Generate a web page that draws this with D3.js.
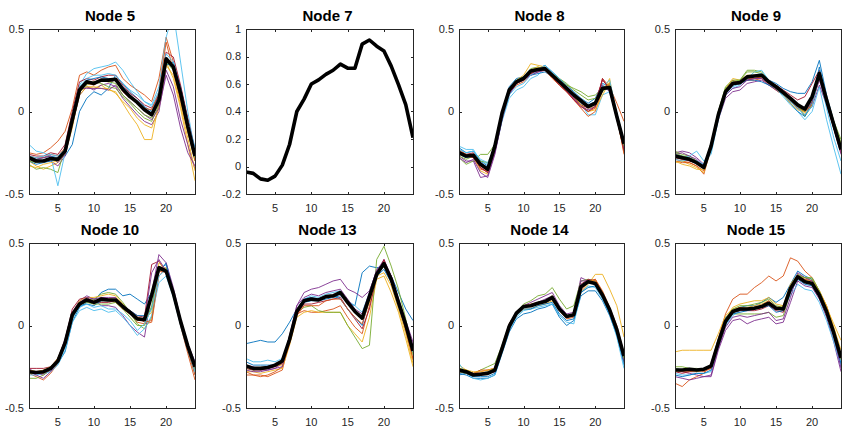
<!DOCTYPE html>
<html>
<head>
<meta charset="utf-8">
<script src="https://cdn.jsdelivr.net/npm/d3@7"></script>
<style>
    body { margin: 0; background: #fff; }
    svg { display: block; font-family: "Liberation Sans", Arial, sans-serif; }
    .tick-label { font-size: 11px; fill: #262626; }
    .panel-title { font-size: 15px; font-weight: bold; fill: #000; }
</style>
</head>
<body>
<div id="container"></div>
<script>
// shared x values and tick labels
const steps = [1, 2, 3, 4, 5, 6, 7, 8, 9, 10, 11, 12, 13, 14, 15, 16, 17, 18, 19, 20, 21, 22, 23, 24];
const xTicks = [5, 10, 15, 20];
const yTicksHalf = [-0.5, 0, 0.5];
const yTicksNode7 = [-0.2, 0, 0.2, 0.4, 0.6, 0.8, 1];
const lineColors = ["#0072BD", "#D95319", "#EDB120", "#7E2F8E", "#77AC30", "#4DBEEE", "#A2142F"];

// Node 5
const node5Mean = [-0.28, -0.30, -0.30, -0.285, -0.29, -0.24, -0.05, 0.13, 0.18, 0.17, 0.19, 0.19, 0.195, 0.135, 0.09, 0.055, 0.01, -0.02, 0.07, 0.32, 0.27, 0.11, -0.09, -0.27];
const node5Runs = [
    [-0.27, -0.29, -0.28, -0.27, -0.28, -0.27, -0.2, 0.0, 0.08, 0.12, 0.10, 0.14, 0.22, 0.17, 0.12, 0.08, 0.03, 0.0, 0.1, 0.3, 0.28, 0.15, -0.05, -0.22],
    [-0.25, -0.26, -0.25, -0.22, -0.18, -0.12, 0.02, 0.22, 0.24, 0.22, 0.25, 0.27, 0.28, 0.2, 0.16, 0.13, 0.1, 0.06, 0.2, 0.45, 0.3, 0.12, -0.08, -0.26],
    [-0.3, -0.33, -0.35, -0.33, -0.31, -0.26, -0.1, 0.12, 0.15, 0.14, 0.16, 0.13, 0.12, 0.05, -0.02, -0.08, -0.17, -0.17, 0.05, 0.3, 0.2, 0.02, -0.2, -0.42],
    [-0.29, -0.31, -0.3, -0.3, -0.33, -0.27, -0.08, 0.1, 0.15, 0.13, 0.16, 0.17, 0.15, 0.08, 0.03, -0.02, -0.06, -0.08, 0.0, 0.25, 0.15, -0.05, -0.2, -0.35],
    [-0.32, -0.35, -0.34, -0.35, -0.37, -0.22, -0.08, 0.12, 0.16, 0.18, 0.17, 0.15, 0.14, 0.09, 0.05, 0.0, -0.04, -0.06, 0.04, 0.3, 0.25, 0.08, -0.12, -0.3],
    [-0.2, -0.24, -0.25, -0.27, -0.45, -0.25, -0.05, 0.16, 0.23, 0.26, 0.27, 0.28, 0.3, 0.25, 0.18, 0.12, 0.06, 0.04, 0.15, 0.45, 0.6, 0.3, 0.0, -0.25],
    [-0.26, -0.27, -0.27, -0.25, -0.26, -0.2, 0.0, 0.18, 0.2, 0.19, 0.21, 0.22, 0.22, 0.16, 0.11, 0.08, 0.04, 0.02, 0.1, 0.36, 0.33, 0.16, -0.04, -0.24],
    [-0.3, -0.32, -0.31, -0.3, -0.29, -0.25, -0.06, 0.14, 0.19, 0.2, 0.21, 0.2, 0.2, 0.15, 0.1, 0.06, 0.02, -0.01, 0.08, 0.28, 0.3, 0.14, -0.06, -0.25],
    [-0.27, -0.28, -0.28, -0.26, -0.27, -0.22, -0.04, 0.15, 0.17, 0.16, 0.19, 0.18, 0.19, 0.12, 0.08, 0.05, 0.02, 0.01, 0.12, 0.42, 0.25, 0.06, -0.12, -0.3],
    [-0.33, -0.34, -0.32, -0.31, -0.3, -0.26, -0.08, 0.1, 0.15, 0.15, 0.14, 0.14, 0.11, 0.06, 0.02, -0.04, -0.08, -0.1, 0.02, 0.28, 0.22, 0.04, -0.16, -0.36],
    [-0.28, -0.29, -0.28, -0.27, -0.31, -0.26, -0.04, 0.14, 0.14, 0.14, 0.14, 0.13, 0.16, 0.1, 0.06, 0.02, -0.02, -0.05, 0.02, 0.22, 0.1, -0.1, -0.25, -0.33],
    [-0.3, -0.31, -0.3, -0.29, -0.3, -0.24, -0.06, 0.12, 0.17, 0.18, 0.19, 0.18, 0.17, 0.1, 0.06, 0.02, -0.02, -0.04, 0.06, 0.32, 0.28, 0.1, -0.1, -0.28],
    [-0.27, -0.28, -0.27, -0.26, -0.27, -0.23, -0.03, 0.15, 0.2, 0.22, 0.22, 0.23, 0.22, 0.17, 0.13, 0.1, 0.06, 0.03, 0.12, 0.35, 0.3, 0.13, -0.06, -0.23]
];

// Node 7 (mean only)
const node7Mean = [-0.04, -0.05, -0.09, -0.10, -0.07, 0.01, 0.16, 0.40, 0.49, 0.60, 0.63, 0.67, 0.70, 0.745, 0.715, 0.715, 0.89, 0.92, 0.875, 0.84, 0.73, 0.595, 0.45, 0.21];

// Node 8
const node8Mean = [-0.25, -0.27, -0.265, -0.32, -0.35, -0.21, -0.01, 0.13, 0.18, 0.20, 0.245, 0.255, 0.26, 0.22, 0.18, 0.14, 0.10, 0.065, 0.03, 0.05, 0.14, 0.145, -0.03, -0.195];
const node8Runs = [
    [-0.22, -0.25, -0.24, -0.3, -0.33, -0.2, 0.0, 0.15, 0.2, 0.21, 0.24, 0.26, 0.28, 0.24, 0.2, 0.16, 0.12, 0.08, 0.05, 0.08, 0.17, 0.15, -0.01, -0.18],
    [-0.25, -0.28, -0.27, -0.34, -0.37, -0.24, -0.04, 0.11, 0.16, 0.18, 0.22, 0.24, 0.25, 0.21, 0.16, 0.12, 0.08, 0.04, 0.0, 0.02, 0.2, 0.15, 0.05, -0.06],
    [-0.24, -0.27, -0.28, -0.36, -0.38, -0.22, -0.02, 0.12, 0.19, 0.22, 0.29, 0.28, 0.27, 0.21, 0.17, 0.13, 0.09, 0.05, 0.02, 0.03, 0.12, 0.2, -0.04, -0.25],
    [-0.27, -0.3, -0.3, -0.4, -0.39, -0.25, -0.05, 0.1, 0.17, 0.19, 0.23, 0.24, 0.26, 0.22, 0.18, 0.13, 0.09, 0.05, 0.03, 0.04, 0.15, 0.13, -0.05, -0.22],
    [-0.28, -0.32, -0.3, -0.26, -0.26, -0.2, -0.02, 0.13, 0.18, 0.21, 0.26, 0.27, 0.25, 0.22, 0.19, 0.16, 0.14, 0.12, 0.09, 0.1, 0.14, 0.17, -0.03, -0.2],
    [-0.21, -0.23, -0.23, -0.3, -0.32, -0.24, -0.06, 0.08, 0.13, 0.15, 0.2, 0.22, 0.27, 0.23, 0.19, 0.14, 0.1, 0.05, -0.02, -0.02, 0.1, 0.12, -0.02, -0.2],
    [-0.24, -0.26, -0.25, -0.33, -0.36, -0.22, -0.03, 0.12, 0.17, 0.2, 0.24, 0.25, 0.26, 0.21, 0.17, 0.12, 0.08, 0.04, 0.02, 0.06, 0.19, 0.14, -0.02, -0.22],
    [-0.26, -0.28, -0.27, -0.31, -0.34, -0.21, -0.01, 0.14, 0.19, 0.2, 0.22, 0.23, 0.24, 0.21, 0.18, 0.15, 0.11, 0.07, 0.04, 0.06, 0.13, 0.14, -0.03, -0.21],
    [-0.23, -0.26, -0.26, -0.35, -0.36, -0.23, -0.03, 0.12, 0.17, 0.19, 0.23, 0.25, 0.25, 0.2, 0.16, 0.12, 0.07, 0.02, -0.03, 0.0, 0.13, 0.17, -0.02, -0.26],
    [-0.26, -0.27, -0.26, -0.33, -0.35, -0.22, -0.02, 0.13, 0.18, 0.2, 0.25, 0.27, 0.26, 0.22, 0.18, 0.14, 0.09, 0.04, 0.0, 0.01, 0.1, 0.18, -0.02, -0.24],
    [-0.28, -0.31, -0.29, -0.37, -0.4, -0.26, -0.05, 0.11, 0.17, 0.19, 0.22, 0.24, 0.25, 0.21, 0.17, 0.13, 0.08, 0.03, 0.01, 0.03, 0.16, 0.12, -0.04, -0.23],
    [-0.27, -0.29, -0.27, -0.3, -0.31, -0.22, -0.01, 0.14, 0.19, 0.21, 0.25, 0.26, 0.26, 0.23, 0.2, 0.17, 0.13, 0.1, 0.07, 0.08, 0.12, 0.16, -0.02, -0.21],
    [-0.23, -0.25, -0.24, -0.29, -0.31, -0.23, -0.04, 0.1, 0.15, 0.17, 0.22, 0.25, 0.28, 0.24, 0.2, 0.15, 0.1, 0.06, 0.03, 0.04, 0.15, 0.19, -0.01, -0.18],
    [-0.25, -0.27, -0.28, -0.34, -0.37, -0.23, -0.03, 0.12, 0.17, 0.2, 0.23, 0.25, 0.25, 0.21, 0.16, 0.12, 0.07, 0.03, 0.0, 0.03, 0.2, 0.13, -0.04, -0.24]
];

// Node 9
const node9Mean = [-0.27, -0.28, -0.29, -0.31, -0.34, -0.21, -0.02, 0.12, 0.17, 0.175, 0.21, 0.215, 0.22, 0.18, 0.15, 0.115, 0.08, 0.04, 0.015, 0.09, 0.23, 0.07, -0.08, -0.23];
const node9Runs = [
    [-0.26, -0.27, -0.28, -0.3, -0.33, -0.2, -0.01, 0.13, 0.18, 0.18, 0.2, 0.21, 0.22, 0.19, 0.17, 0.14, 0.12, 0.11, 0.11, 0.18, 0.31, 0.1, -0.06, -0.22],
    [-0.29, -0.3, -0.31, -0.33, -0.38, -0.22, -0.03, 0.11, 0.16, 0.17, 0.19, 0.19, 0.2, 0.16, 0.13, 0.1, 0.06, 0.02, 0.0, 0.05, 0.24, 0.06, -0.1, -0.24],
    [-0.31, -0.3, -0.32, -0.34, -0.37, -0.22, -0.02, 0.14, 0.2, 0.19, 0.22, 0.22, 0.22, 0.17, 0.13, 0.1, 0.06, 0.02, -0.01, 0.05, 0.2, 0.09, -0.07, -0.2],
    [-0.25, -0.24, -0.25, -0.28, -0.32, -0.23, -0.05, 0.08, 0.12, 0.13, 0.17, 0.18, 0.19, 0.16, 0.13, 0.1, 0.06, 0.02, -0.02, 0.03, 0.16, 0.04, -0.1, -0.26],
    [-0.24, -0.26, -0.27, -0.3, -0.33, -0.19, 0.0, 0.14, 0.18, 0.19, 0.25, 0.25, 0.24, 0.19, 0.15, 0.11, 0.07, 0.03, -0.03, 0.04, 0.22, 0.08, -0.06, -0.17],
    [-0.28, -0.28, -0.27, -0.24, -0.3, -0.26, -0.05, 0.1, 0.14, 0.16, 0.2, 0.24, 0.25, 0.19, 0.14, 0.09, 0.04, 0.0, -0.05, 0.0, 0.15, -0.05, -0.22, -0.38],
    [-0.28, -0.29, -0.3, -0.31, -0.34, -0.2, -0.01, 0.12, 0.17, 0.17, 0.19, 0.2, 0.21, 0.18, 0.16, 0.13, 0.1, 0.07, 0.09, 0.17, 0.25, 0.08, -0.08, -0.24],
    [-0.27, -0.28, -0.29, -0.31, -0.34, -0.22, -0.03, 0.11, 0.16, 0.17, 0.19, 0.19, 0.18, 0.16, 0.14, 0.1, 0.05, 0.0, -0.03, 0.06, 0.27, 0.07, -0.09, -0.23],
    [-0.3, -0.31, -0.31, -0.33, -0.36, -0.21, -0.01, 0.13, 0.19, 0.17, 0.2, 0.2, 0.21, 0.17, 0.14, 0.1, 0.06, 0.03, 0.0, 0.04, 0.21, 0.06, -0.1, -0.25],
    [-0.3, -0.32, -0.33, -0.35, -0.35, -0.21, -0.02, 0.12, 0.17, 0.18, 0.2, 0.21, 0.22, 0.18, 0.14, 0.1, 0.05, 0.01, 0.0, 0.07, 0.24, 0.09, -0.07, -0.21],
    [-0.26, -0.25, -0.27, -0.29, -0.33, -0.22, -0.04, 0.1, 0.14, 0.15, 0.19, 0.2, 0.2, 0.17, 0.14, 0.11, 0.07, 0.03, 0.0, 0.06, 0.19, 0.05, -0.1, -0.25],
    [-0.25, -0.27, -0.28, -0.31, -0.34, -0.2, 0.0, 0.15, 0.19, 0.19, 0.24, 0.24, 0.23, 0.18, 0.15, 0.11, 0.07, 0.03, 0.0, 0.08, 0.23, 0.08, -0.06, -0.19],
    [-0.29, -0.3, -0.29, -0.3, -0.32, -0.24, -0.04, 0.11, 0.15, 0.17, 0.2, 0.22, 0.23, 0.18, 0.14, 0.1, 0.06, 0.02, -0.02, 0.03, 0.22, 0.02, -0.16, -0.3]
];

// Node 10
const node10Mean = [-0.28, -0.285, -0.28, -0.26, -0.215, -0.105, 0.065, 0.13, 0.155, 0.14, 0.16, 0.155, 0.155, 0.115, 0.08, 0.04, 0.035, 0.185, 0.35, 0.33, 0.195, 0.025, -0.125, -0.25];
const node10Runs = [
    [-0.27, -0.28, -0.28, -0.27, -0.23, -0.16, 0.02, 0.11, 0.14, 0.15, 0.2, 0.22, 0.22, 0.18, 0.19, 0.16, 0.13, 0.2, 0.32, 0.38, 0.21, 0.03, -0.12, -0.22],
    [-0.29, -0.31, -0.33, -0.29, -0.23, -0.12, 0.04, 0.12, 0.15, 0.13, 0.15, 0.15, 0.14, 0.1, 0.07, 0.02, 0.01, 0.02, 0.3, 0.35, 0.2, 0.0, -0.17, -0.33],
    [-0.27, -0.28, -0.28, -0.26, -0.2, -0.09, 0.07, 0.14, 0.16, 0.15, 0.16, 0.16, 0.17, 0.12, 0.09, 0.05, 0.04, 0.2, 0.36, 0.34, 0.2, 0.03, -0.12, -0.24],
    [-0.26, -0.29, -0.3, -0.27, -0.21, -0.08, 0.08, 0.15, 0.18, 0.16, 0.12, 0.12, 0.11, 0.06, 0.0, -0.04, -0.07, 0.2, 0.43, 0.38, 0.23, 0.04, -0.11, -0.22],
    [-0.32, -0.32, -0.3, -0.27, -0.21, -0.1, 0.05, 0.12, 0.15, 0.16, 0.19, 0.2, 0.19, 0.14, 0.08, 0.01, -0.02, 0.05, 0.33, 0.35, 0.19, 0.01, -0.14, -0.28],
    [-0.3, -0.3, -0.29, -0.28, -0.24, -0.15, 0.02, 0.09, 0.11, 0.09, 0.1, 0.08, 0.09, 0.05, 0.0, -0.06, -0.02, 0.06, 0.26, 0.3, 0.17, 0.0, -0.15, -0.3],
    [-0.26, -0.26, -0.26, -0.25, -0.2, -0.09, 0.1, 0.16, 0.17, 0.14, 0.14, 0.14, 0.15, 0.12, 0.09, 0.06, 0.05, 0.37, 0.39, 0.32, 0.18, 0.02, -0.13, -0.26],
    [-0.28, -0.29, -0.29, -0.27, -0.22, -0.11, 0.05, 0.12, 0.13, 0.12, 0.15, 0.15, 0.16, 0.12, 0.09, 0.06, 0.06, 0.1, 0.34, 0.37, 0.2, 0.03, -0.12, -0.24],
    [-0.28, -0.29, -0.29, -0.27, -0.22, -0.11, 0.06, 0.14, 0.16, 0.14, 0.17, 0.16, 0.15, 0.1, 0.07, 0.05, 0.02, 0.03, 0.33, 0.32, 0.18, 0.01, -0.15, -0.3],
    [-0.27, -0.28, -0.27, -0.25, -0.2, -0.1, 0.07, 0.15, 0.17, 0.17, 0.18, 0.19, 0.18, 0.13, 0.08, 0.03, 0.04, 0.08, 0.38, 0.34, 0.2, 0.03, -0.12, -0.26],
    [-0.28, -0.3, -0.32, -0.28, -0.22, -0.1, 0.06, 0.14, 0.17, 0.16, 0.17, 0.17, 0.17, 0.11, 0.07, 0.04, 0.03, 0.32, 0.4, 0.33, 0.2, 0.02, -0.13, -0.27],
    [-0.29, -0.29, -0.28, -0.26, -0.21, -0.1, 0.06, 0.13, 0.14, 0.13, 0.13, 0.13, 0.14, 0.1, 0.05, 0.0, 0.0, 0.12, 0.34, 0.33, 0.19, 0.02, -0.14, -0.27],
    [-0.28, -0.29, -0.28, -0.27, -0.23, -0.13, 0.04, 0.11, 0.13, 0.11, 0.12, 0.1, 0.1, 0.07, 0.03, -0.03, 0.01, 0.1, 0.3, 0.34, 0.19, 0.01, -0.14, -0.28]
];

// Node 13
const node13Mean = [-0.245, -0.26, -0.26, -0.255, -0.24, -0.215, -0.085, 0.085, 0.15, 0.16, 0.155, 0.175, 0.18, 0.20, 0.14, 0.085, 0.045, 0.175, 0.31, 0.375, 0.28, 0.14, 0.005, -0.155];
const node13Runs = [
    [-0.11, -0.1, -0.09, -0.1, -0.1, -0.05, 0.02, 0.1, 0.14, 0.15, 0.15, 0.16, 0.17, 0.18, 0.14, 0.12, 0.32, 0.36, 0.35, 0.36, 0.3, 0.2, 0.1, 0.03],
    [-0.28, -0.3, -0.3, -0.31, -0.29, -0.27, -0.1, 0.07, 0.09, 0.08, 0.08, 0.09, 0.1, 0.12, 0.05, -0.01, -0.05, 0.12, 0.3, 0.39, 0.3, 0.14, -0.03, -0.2],
    [-0.28, -0.28, -0.29, -0.28, -0.27, -0.26, -0.12, 0.05, 0.08, 0.09, 0.08, 0.08, 0.08, 0.08, 0.0, -0.05, -0.1, 0.05, 0.28, 0.3, 0.2, 0.08, -0.08, -0.25],
    [-0.24, -0.25, -0.27, -0.27, -0.26, -0.23, -0.06, 0.12, 0.2, 0.22, 0.23, 0.25, 0.27, 0.28, 0.22, 0.2, 0.17, 0.21, 0.33, 0.4, 0.3, 0.16, 0.03, -0.1],
    [-0.26, -0.27, -0.26, -0.25, -0.24, -0.22, -0.09, 0.08, 0.11, 0.12, 0.09, 0.08, 0.08, 0.08, 0.0, -0.07, -0.14, -0.12, 0.4, 0.48, 0.36, 0.22, 0.04, -0.18],
    [-0.2, -0.22, -0.22, -0.21, -0.22, -0.2, -0.08, 0.1, 0.16, 0.18, 0.17, 0.19, 0.2, 0.21, 0.15, 0.12, 0.08, 0.2, 0.32, 0.37, 0.27, 0.13, 0.0, -0.16],
    [-0.26, -0.27, -0.27, -0.26, -0.25, -0.23, -0.1, 0.07, 0.13, 0.13, 0.14, 0.15, 0.16, 0.17, 0.1, 0.04, -0.02, 0.1, 0.3, 0.4, 0.28, 0.12, -0.02, -0.15],
    [-0.22, -0.24, -0.24, -0.24, -0.24, -0.22, -0.07, 0.1, 0.16, 0.17, 0.16, 0.18, 0.18, 0.16, 0.1, 0.05, 0.0, 0.16, 0.3, 0.34, 0.26, 0.12, -0.02, -0.14],
    [-0.3, -0.3, -0.31, -0.3, -0.28, -0.25, -0.11, 0.06, 0.12, 0.12, 0.12, 0.15, 0.16, 0.16, 0.1, 0.05, 0.01, 0.15, 0.3, 0.38, 0.26, 0.13, -0.03, -0.21],
    [-0.25, -0.26, -0.26, -0.25, -0.24, -0.24, -0.09, 0.1, 0.15, 0.16, 0.16, 0.18, 0.18, 0.2, 0.14, 0.09, 0.05, 0.14, 0.3, 0.32, 0.24, 0.1, -0.05, -0.23],
    [-0.27, -0.28, -0.28, -0.27, -0.26, -0.25, -0.07, 0.12, 0.17, 0.19, 0.18, 0.2, 0.21, 0.22, 0.16, 0.1, 0.07, 0.2, 0.34, 0.38, 0.3, 0.16, 0.02, -0.12]
];

// Node 14
const node14Mean = [-0.27, -0.28, -0.30, -0.295, -0.29, -0.27, -0.14, -0.005, 0.075, 0.115, 0.12, 0.135, 0.145, 0.17, 0.10, 0.055, 0.065, 0.235, 0.265, 0.255, 0.185, 0.095, -0.025, -0.185];
const node14Runs = [
    [-0.29, -0.3, -0.32, -0.32, -0.32, -0.3, -0.17, -0.04, 0.04, 0.07, 0.08, 0.1, 0.11, 0.13, 0.05, 0.0, 0.03, 0.18, 0.21, 0.21, 0.15, 0.06, -0.06, -0.24],
    [-0.28, -0.28, -0.29, -0.28, -0.27, -0.26, -0.13, 0.01, 0.08, 0.11, 0.12, 0.13, 0.14, 0.16, 0.09, 0.04, 0.05, 0.22, 0.27, 0.28, 0.2, 0.1, -0.02, -0.2],
    [-0.24, -0.27, -0.29, -0.3, -0.29, -0.27, -0.15, -0.02, 0.06, 0.1, 0.1, 0.12, 0.13, 0.15, 0.09, 0.05, 0.06, 0.2, 0.25, 0.31, 0.31, 0.22, 0.12, -0.07],
    [-0.27, -0.28, -0.29, -0.29, -0.28, -0.27, -0.14, 0.0, 0.08, 0.12, 0.14, 0.16, 0.18, 0.2, 0.12, 0.07, 0.08, 0.29, 0.27, 0.27, 0.19, 0.1, -0.03, -0.19],
    [-0.26, -0.27, -0.29, -0.27, -0.25, -0.23, -0.12, 0.01, 0.08, 0.13, 0.15, 0.18, 0.19, 0.23, 0.16, 0.1, 0.12, 0.27, 0.28, 0.27, 0.19, 0.1, -0.02, -0.2],
    [-0.23, -0.29, -0.32, -0.33, -0.32, -0.3, -0.16, -0.03, 0.05, 0.09, 0.1, 0.11, 0.12, 0.13, 0.06, 0.02, 0.01, 0.2, 0.24, 0.23, 0.16, 0.07, -0.07, -0.26],
    [-0.28, -0.29, -0.3, -0.3, -0.29, -0.28, -0.14, 0.01, 0.08, 0.12, 0.12, 0.14, 0.15, 0.17, 0.1, 0.05, 0.07, 0.25, 0.28, 0.27, 0.2, 0.1, -0.03, -0.22],
    [-0.3, -0.29, -0.31, -0.31, -0.31, -0.29, -0.16, -0.02, 0.06, 0.1, 0.1, 0.12, 0.13, 0.14, 0.07, 0.03, 0.04, 0.2, 0.23, 0.24, 0.17, 0.07, -0.05, -0.22],
    [-0.27, -0.28, -0.29, -0.27, -0.27, -0.26, -0.13, 0.0, 0.07, 0.12, 0.13, 0.14, 0.15, 0.17, 0.1, 0.05, 0.06, 0.21, 0.26, 0.28, 0.21, 0.11, 0.0, -0.17],
    [-0.26, -0.27, -0.28, -0.28, -0.27, -0.26, -0.13, 0.0, 0.08, 0.12, 0.12, 0.14, 0.15, 0.18, 0.11, 0.06, 0.07, 0.24, 0.27, 0.27, 0.2, 0.1, -0.02, -0.18],
    [-0.27, -0.29, -0.3, -0.3, -0.29, -0.28, -0.15, -0.01, 0.07, 0.11, 0.12, 0.14, 0.16, 0.18, 0.11, 0.06, 0.07, 0.27, 0.27, 0.26, 0.19, 0.09, -0.04, -0.21],
    [-0.28, -0.29, -0.3, -0.29, -0.28, -0.26, -0.13, 0.0, 0.07, 0.11, 0.12, 0.14, 0.15, 0.18, 0.11, 0.06, 0.07, 0.24, 0.26, 0.26, 0.19, 0.1, -0.03, -0.2]
];

// Node 15
const node15Mean = [-0.27, -0.27, -0.265, -0.27, -0.265, -0.245, -0.105, 0.025, 0.085, 0.10, 0.10, 0.105, 0.115, 0.135, 0.105, 0.10, 0.225, 0.295, 0.265, 0.255, 0.185, 0.085, -0.045, -0.195];
const node15Runs = [
    [-0.26, -0.27, -0.26, -0.27, -0.27, -0.25, -0.08, 0.05, 0.09, 0.11, 0.12, 0.12, 0.14, 0.17, 0.14, 0.17, 0.25, 0.33, 0.3, 0.28, 0.2, 0.08, -0.07, -0.24],
    [-0.35, -0.37, -0.33, -0.31, -0.29, -0.23, -0.08, 0.07, 0.16, 0.19, 0.19, 0.23, 0.26, 0.3, 0.27, 0.3, 0.41, 0.39, 0.33, 0.29, 0.21, 0.12, -0.02, -0.18],
    [-0.16, -0.15, -0.15, -0.15, -0.15, -0.15, -0.05, 0.06, 0.1, 0.11, 0.11, 0.12, 0.13, 0.15, 0.11, 0.12, 0.25, 0.31, 0.28, 0.27, 0.21, 0.11, 0.01, -0.09],
    [-0.27, -0.28, -0.29, -0.3, -0.31, -0.31, -0.15, -0.03, 0.03, 0.04, 0.01, 0.03, 0.04, 0.05, 0.01, 0.02, 0.14, 0.27, 0.24, 0.23, 0.16, 0.05, -0.1, -0.28],
    [-0.25, -0.25, -0.26, -0.26, -0.27, -0.25, -0.1, 0.03, 0.07, 0.07, 0.07, 0.07, 0.07, 0.08, 0.05, 0.06, 0.2, 0.31, 0.29, 0.28, 0.2, 0.09, -0.04, -0.21],
    [-0.29, -0.3, -0.3, -0.29, -0.29, -0.28, -0.13, 0.0, 0.06, 0.09, 0.09, 0.11, 0.12, 0.13, 0.1, 0.11, 0.18, 0.25, 0.22, 0.21, 0.14, 0.03, -0.1, -0.25],
    [-0.28, -0.29, -0.28, -0.28, -0.27, -0.26, -0.11, 0.03, 0.08, 0.09, 0.09, 0.09, 0.1, 0.12, 0.09, 0.08, 0.21, 0.3, 0.27, 0.26, 0.19, 0.09, -0.05, -0.2],
    [-0.3, -0.31, -0.3, -0.29, -0.29, -0.27, -0.12, 0.01, 0.07, 0.08, 0.09, 0.1, 0.11, 0.12, 0.08, 0.09, 0.2, 0.28, 0.25, 0.24, 0.17, 0.07, -0.06, -0.23],
    [-0.27, -0.28, -0.28, -0.27, -0.28, -0.26, -0.11, 0.02, 0.09, 0.11, 0.1, 0.11, 0.12, 0.15, 0.11, 0.1, 0.23, 0.3, 0.28, 0.27, 0.2, 0.1, -0.04, -0.19],
    [-0.28, -0.27, -0.27, -0.28, -0.27, -0.25, -0.1, 0.04, 0.11, 0.13, 0.14, 0.15, 0.15, 0.17, 0.13, 0.12, 0.24, 0.29, 0.27, 0.27, 0.21, 0.12, -0.01, -0.15],
    [-0.31, -0.32, -0.33, -0.32, -0.31, -0.3, -0.14, -0.01, 0.05, 0.06, 0.05, 0.06, 0.07, 0.08, 0.03, 0.04, 0.17, 0.32, 0.29, 0.27, 0.19, 0.08, -0.06, -0.26],
    [-0.26, -0.27, -0.27, -0.27, -0.26, -0.24, -0.09, 0.04, 0.1, 0.12, 0.12, 0.13, 0.14, 0.16, 0.12, 0.11, 0.22, 0.3, 0.29, 0.29, 0.21, 0.1, -0.03, -0.19]
];

const panels = [
    { title: "Node 5", runs: node5Runs, mean: node5Mean, yTicks: yTicksHalf },
    { title: "Node 7", runs: [], mean: node7Mean, yTicks: yTicksNode7 },
    { title: "Node 8", runs: node8Runs, mean: node8Mean, yTicks: yTicksHalf },
    { title: "Node 9", runs: node9Runs, mean: node9Mean, yTicks: yTicksHalf },
    { title: "Node 10", runs: node10Runs, mean: node10Mean, yTicks: yTicksHalf },
    { title: "Node 13", runs: node13Runs, mean: node13Mean, yTicks: yTicksHalf },
    { title: "Node 14", runs: node14Runs, mean: node14Mean, yTicks: yTicksHalf },
    { title: "Node 15", runs: node15Runs, mean: node15Mean, yTicks: yTicksHalf }
];

// axes boxes (pixels), as in the MATLAB figure
const colLeft = [29, 246, 459, 675];
const colRight = [195, 413, 624, 841];
const rowTop = [29, 243];
const rowBottom = [194, 408];
const tickLen = 2.5;
const axisColor = "#262626";

const svg = d3.select("#container")
    .append("svg")
    .attr("width", 845)
    .attr("height", 430);

svg.append("rect").attr("width", 845).attr("height", 430).attr("fill", "#fff");

panels.forEach((p, i) => {
    const col = i % 4, row = Math.floor(i / 4);
    const left = colLeft[col], right = colRight[col];
    const top = rowTop[row], bottom = rowBottom[row];

    const x = d3.scaleLinear().domain([1, 24]).range([left, right]);
    const y = d3.scaleLinear()
        .domain([p.yTicks[0], p.yTicks[p.yTicks.length - 1]])
        .range([bottom, top]);

    const g = svg.append("g");

    // clip lines to the axes box
    const clipId = "clip" + i;
    svg.append("clipPath").attr("id", clipId)
        .append("rect")
        .attr("x", left).attr("y", top)
        .attr("width", right - left).attr("height", bottom - top);

    const line = d3.line()
        .x((d, k) => x(steps[k]))
        .y(d => y(d));

    const plot = g.append("g").attr("clip-path", `url(#${clipId})`);

    plot.selectAll("path.run")
        .data(p.runs)
        .join("path")
        .attr("class", "run")
        .attr("d", line)
        .attr("fill", "none")
        .attr("stroke", (d, k) => lineColors[k % lineColors.length])
        .attr("stroke-width", 0.9);

    plot.append("path")
        .datum(p.mean)
        .attr("d", line)
        .attr("fill", "none")
        .attr("stroke", "#000")
        .attr("stroke-width", 3.6)
        .attr("stroke-linejoin", "round");

    // box with inward ticks on all sides
    const frame = g.append("g")
        .attr("stroke", axisColor)
        .attr("stroke-width", 1)
        .attr("shape-rendering", "crispEdges");

    frame.append("rect")
        .attr("x", left + 0.5).attr("y", top + 0.5)
        .attr("width", right - left).attr("height", bottom - top)
        .attr("fill", "none");

    xTicks.forEach(t => {
        const xx = Math.round(x(t)) + 0.5;
        frame.append("line").attr("x1", xx).attr("x2", xx)
            .attr("y1", bottom + 0.5).attr("y2", bottom + 0.5 - tickLen);
        frame.append("line").attr("x1", xx).attr("x2", xx)
            .attr("y1", top + 0.5).attr("y2", top + 0.5 + tickLen);
    });
    p.yTicks.forEach(t => {
        const yy = Math.round(y(t)) + 0.5;
        frame.append("line").attr("y1", yy).attr("y2", yy)
            .attr("x1", left + 0.5).attr("x2", left + 0.5 + tickLen);
        frame.append("line").attr("y1", yy).attr("y2", yy)
            .attr("x1", right + 0.5).attr("x2", right + 0.5 - tickLen);
    });

    g.selectAll("text.xlab")
        .data(xTicks)
        .join("text")
        .attr("class", "tick-label")
        .attr("x", d => x(d))
        .attr("y", bottom + 18)
        .attr("text-anchor", "middle")
        .text(d => String(d));

    g.selectAll("text.ylab")
        .data(p.yTicks)
        .join("text")
        .attr("class", "tick-label")
        .attr("x", left - 5)
        .attr("y", d => y(d))
        .attr("dy", "0.36em")
        .attr("text-anchor", "end")
        .text(d => String(d));

    g.append("text")
        .attr("class", "panel-title")
        .attr("x", (left + right) / 2 - 2)
        .attr("y", top - 8)
        .attr("text-anchor", "middle")
        .text(p.title);
});
</script>
</body>
</html>
